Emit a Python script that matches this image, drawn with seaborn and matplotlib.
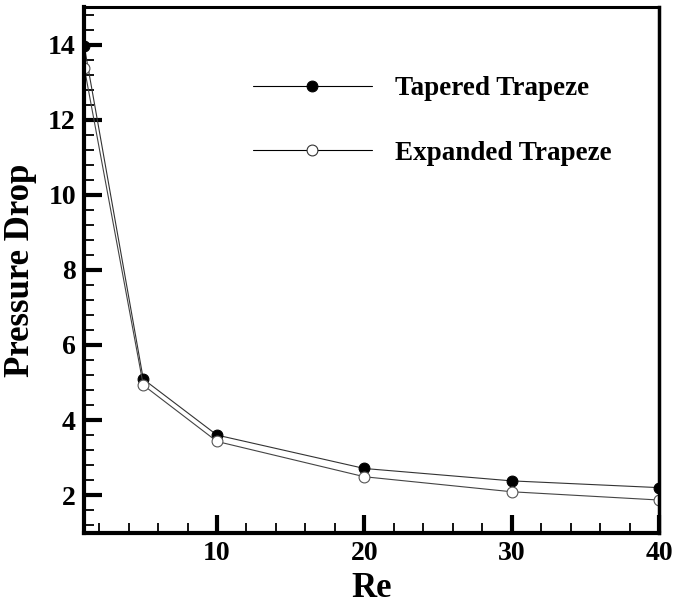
import matplotlib
matplotlib.use("Agg")
import matplotlib.pyplot as plt
from matplotlib.ticker import MultipleLocator
import seaborn as sns
import pandas as pd

re_vals = [1, 5, 10, 20, 30, 40]
tapered = [13.95, 5.09, 3.60, 2.71, 2.38, 2.20]
expanded = [13.38, 4.93, 3.43, 2.49, 2.09, 1.87]
series_names = ["Tapered Trapeze", "Expanded Trapeze"]

sns.set_theme(style="white")
plt.rcParams["font.family"] = ["Liberation Serif", "DejaVu Serif"]
plt.rcParams["font.weight"] = "bold"

df_t = pd.DataFrame({"Re": re_vals, "dp": tapered})
df_e = pd.DataFrame({"Re": re_vals, "dp": expanded})

fig = plt.figure(figsize=(6.75, 6.05), dpi=100)
ax = fig.add_axes([0.1249, 0.1195, 0.8518, 0.8689])

sns.lineplot(data=df_t, x="Re", y="dp", ax=ax, color="#333333", lw=0.8,
             marker="o", markersize=7.8, markerfacecolor="black",
             markeredgecolor="black", label=series_names[0])
sns.lineplot(data=df_e, x="Re", y="dp", ax=ax, color="#444444", lw=0.8,
             marker="o", markersize=7.8, markerfacecolor="white",
             markeredgecolor="#555555", markeredgewidth=0.8,
             label=series_names[1])

ax.set_xlim(1, 40)
ax.set_ylim(1, 15)
ax.set_xticks([10, 20, 30, 40])
ax.set_yticks([2, 4, 6, 8, 10, 12, 14])
ax.xaxis.set_minor_locator(MultipleLocator(2))
ax.yaxis.set_minor_locator(MultipleLocator(0.4))
ax.tick_params(axis="both", which="major", direction="in", length=13, width=3,
               labelsize=20, pad=6, bottom=True, left=True, top=False, right=False,
               color="black")
ax.tick_params(axis="both", which="minor", direction="in", length=7.5, width=1.3,
               bottom=True, left=True, top=False, right=False, color="black")
for lab in ax.get_xticklabels() + ax.get_yticklabels():
    lab.set_fontweight("bold")
    lab.set_color("black")

for side, w in [("left", 3), ("bottom", 3), ("top", 2.2), ("right", 2.5)]:
    ax.spines[side].set_visible(True)
    ax.spines[side].set_linewidth(w)
    ax.spines[side].set_color("black")

ax.set_xlabel("Re", fontsize=25, fontweight="bold", color="black", labelpad=4)
ax.set_ylabel("Pressure Drop", fontsize=25, fontweight="bold", color="black", labelpad=8)

leg = ax.legend(loc="center left", bbox_to_anchor=(0.293, 0.783), frameon=False,
                fontsize=19.5, handlelength=4.4, handletextpad=0.85,
                labelspacing=1.45, borderpad=0, borderaxespad=0)
for t in leg.get_texts():
    t.set_fontweight("bold")
    t.set_color("black")
for h in leg.legend_handles:
    h.set_color("black")
leg.legend_handles[0].set_markerfacecolor("black")
leg.legend_handles[0].set_markeredgecolor("black")
leg.legend_handles[1].set_markerfacecolor("white")
leg.legend_handles[1].set_markeredgecolor("#333333")

fig.savefig("out.png", dpi=100)
